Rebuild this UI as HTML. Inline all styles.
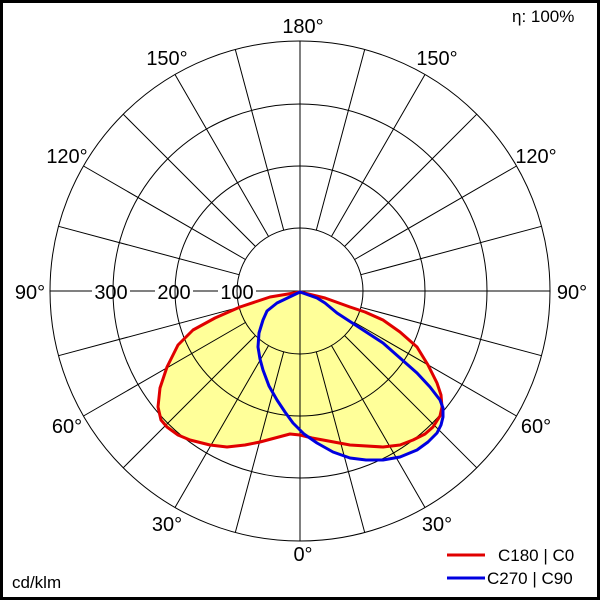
<!DOCTYPE html>
<html><head><meta charset="utf-8"><style>
html,body{margin:0;padding:0;background:#fff}
svg{display:block}
text{font-family:"Liberation Sans",Arial,sans-serif;font-size:20px;fill:#000}
</style></head><body>
<svg width="600" height="600" viewBox="0 0 600 600" xmlns="http://www.w3.org/2000/svg">
<rect x="1.5" y="1.5" width="597" height="597" fill="#fff" stroke="#000" stroke-width="3"/>
<g fill="#ffff99" stroke="none">
<polygon points="300,292 270,297 240,307 215,318 193,330 178,345 167,367 160,388 158,407 161,420 167,427 178,435 190,440 210,445 227,447 245,445 260,442 275,438 290,434 300,435 312,438 323,440 350,445 383,447 400,445 413,440 425,434 433,427 440,416 442,407 441,395 437,383 428,365 417,347 400,332 383,320 365,312 350,307 325,298"/>
<polygon points="300,292 277,303 267,311 263,320 259,333 258,347 260,359 263,370 269,386 277,400 285,412 293,423 304,434 317,443 333,452 350,458 366,460 383,460 400,457 417,450 428,442 437,433 441,425 443,417 443,408 440,400 430,387 417,373 400,358 383,343 360,328 337,313 325,303 317,298"/>
</g>
<g fill="none" stroke="#000" stroke-width="1">
<circle cx="300" cy="291" r="63"/>
<circle cx="300" cy="291" r="125"/>
<circle cx="300" cy="291" r="187"/>
<circle cx="300" cy="291" r="250"/>
<line x1="300" y1="41" x2="300" y2="541"/>
<line x1="50" y1="291" x2="92" y2="291"/>
<line x1="130" y1="291" x2="155" y2="291"/>
<line x1="193" y1="291" x2="218" y2="291"/>
<line x1="256" y1="291" x2="550" y2="291"/>
<g transform="translate(300,291)">
<path d="M16.3,60.9L64.7,241.5M31.5,54.6L125,216.5M44.5,44.5L176.8,176.8M54.6,31.5L216.5,125M60.9,16.3L241.5,64.7
M-16.3,60.9L-64.7,241.5M-31.5,54.6L-125,216.5M-44.5,44.5L-176.8,176.8M-54.6,31.5L-216.5,125M-60.9,16.3L-241.5,64.7
M16.3,-60.9L64.7,-241.5M31.5,-54.6L125,-216.5M44.5,-44.5L176.8,-176.8M54.6,-31.5L216.5,-125M60.9,-16.3L241.5,-64.7
M-16.3,-60.9L-64.7,-241.5M-31.5,-54.6L-125,-216.5M-44.5,-44.5L-176.8,-176.8M-54.6,-31.5L-216.5,-125M-60.9,-16.3L-241.5,-64.7"/>
</g>
</g>
<g fill="none" stroke-width="3" stroke-linejoin="round">
<polygon stroke="#e00000" points="300,292 270,297 240,307 215,318 193,330 178,345 167,367 160,388 158,407 161,420 167,427 178,435 190,440 210,445 227,447 245,445 260,442 275,438 290,434 300,435 312,438 323,440 350,445 383,447 400,445 413,440 425,434 433,427 440,416 442,407 441,395 437,383 428,365 417,347 400,332 383,320 365,312 350,307 325,298"/>
<polygon stroke="#0000e0" points="300,292 277,303 267,311 263,320 259,333 258,347 260,359 263,370 269,386 277,400 285,412 293,423 304,434 317,443 333,452 350,458 366,460 383,460 400,457 417,450 428,442 437,433 441,425 443,417 443,408 440,400 430,387 417,373 400,358 383,343 360,328 337,313 325,303 317,298"/>
</g>
<g text-anchor="middle">
<text x="303" y="33">180°</text>
<text x="167" y="65">150°</text>
<text x="437" y="65">150°</text>
<text x="67" y="163">120°</text>
<text x="536" y="163">120°</text>
<text x="30" y="299">90°</text>
<text x="572" y="299">90°</text>
<text x="111" y="299">300</text>
<text x="174" y="299">200</text>
<text x="237" y="299">100</text>
<text x="67" y="433">60°</text>
<text x="536" y="433">60°</text>
<text x="167" y="531">30°</text>
<text x="437" y="531">30°</text>
<text x="303" y="561">0°</text>
</g>
<text x="512" y="22" style="font-size:17px">η: 100%</text>
<text x="12" y="588" style="font-size:17px">cd/klm</text>
<line x1="447" y1="555" x2="485" y2="555" stroke="#e00000" stroke-width="3"/>
<line x1="447" y1="578" x2="485" y2="578" stroke="#0000e0" stroke-width="3"/>
<text x="498" y="561" style="font-size:17px">C180 | C0</text>
<text x="487" y="584" style="font-size:17px">C270 | C90</text>
</svg>
</body></html>
